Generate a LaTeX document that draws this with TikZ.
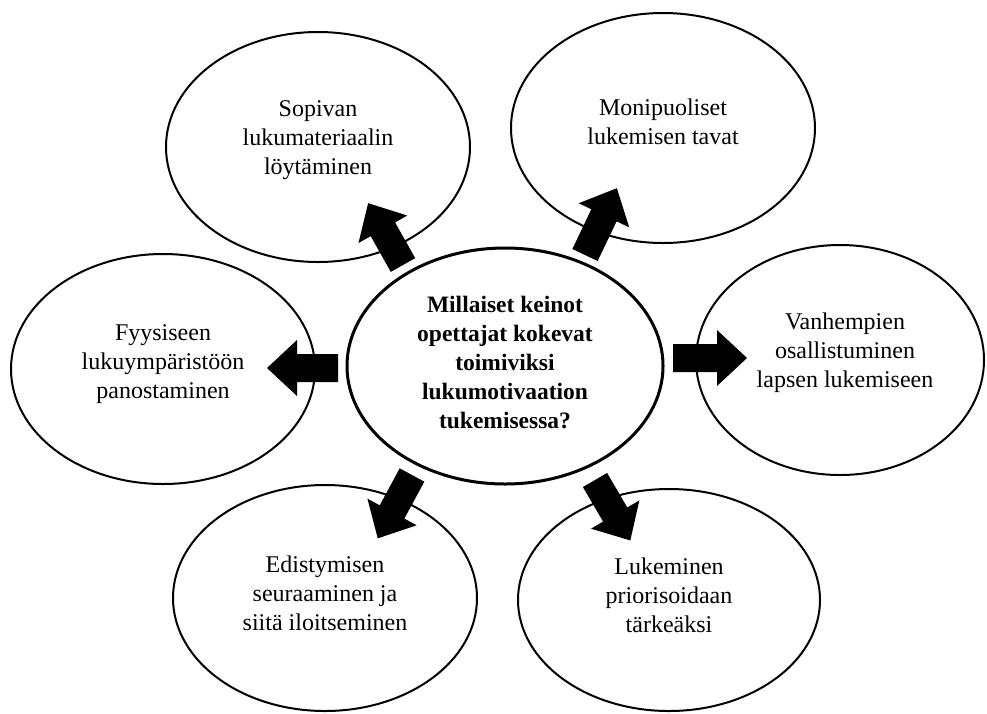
\documentclass[tikz,border=0pt]{standalone}
\usepackage{fontspec}
\setmainfont{Liberation Serif}
\usetikzlibrary{shapes.geometric}
\tikzset{
  bub/.style={ellipse, draw=black, line width=2pt, inner sep=0pt},
  hub/.style={ellipse, draw=black, line width=3pt, inner sep=0pt},
  txt/.style={align=center, inner sep=0pt, font=\fontsize{24}{29}\selectfont},
  hubtxt/.style={txt, font=\fontsize{23.5}{29}\selectfont\bfseries},
  blk/.style={fill=black},
}
\newcommand\blockarr[3]{% coordinate, angle, length
  \fill[blk, shift={(#1)}, rotate=#2]
    (0,-14) -- ({#3-30},-14) -- ({#3-30},-28) -- (#3,0) -- ({#3-30},28) -- ({#3-30},14) -- (0,14) -- cycle;}
\begin{document}
\begin{tikzpicture}[x=1pt,y=-1pt]
  \path[fill=white] (0,0) rectangle (987,713);
  \useasboundingbox (0,0) rectangle (987,713);

  % outer bubbles
  \node[bub, minimum width=304pt, minimum height=230pt] (tl) at (318,147) {};
  \node[bub, minimum width=304pt, minimum height=230pt] (tr) at (663,128) {};
  \node[bub, minimum width=304pt, minimum height=230pt] (l)  at (163,369) {};
  \node[bub, minimum width=288pt, minimum height=230pt] (r)  at (840,360) {};
  \node[bub, minimum width=304pt, minimum height=226pt] (bl) at (325,598) {};
  \node[bub, minimum width=302pt, minimum height=222pt] (br) at (669,600) {};
  % central bubble
  \node[hub, minimum width=316pt, minimum height=236pt] (c) at (505,366) {};

  % texts
  \node[txt] (tltext) at ([yshift=7pt]tl.center) {Sopivan\\lukumateriaalin\\löytäminen};
  \node[txt] (trtext) at ([yshift=6pt]tr.center) {Monipuoliset\\lukemisen tavat};
  \node[txt] (ltext)  at ([yshift=5pt]l.center)  {Fyysiseen\\lukuympäristöön\\panostaminen};
  \node[txt] (rtext)  at ([xshift=5pt,yshift=7pt]r.center) {Vanhempien\\osallistuminen\\lapsen lukemiseen};
  \node[txt] (bltext) at ([yshift=5pt]bl.center) {Edistymisen\\seuraaminen ja\\siitä iloitseminen};
  \node[txt] (brtext) at ([yshift=5pt]br.center) {Lukeminen\\priorisoidaan\\tärkeäksi};
  \node[hubtxt] (ctext) at ([yshift=3pt]c.center) {Millaiset keinot\\opettajat kokevat\\toimiviksi\\lukumotivaation\\tukemisessa?};

  % block arrows
  \coordinate (a1) at (403,265);
  \coordinate (a2) at (585,255);
  \coordinate (a3) at (338,368);
  \coordinate (a4) at (673,358);
  \coordinate (a5) at (412,475);
  \coordinate (a6) at (595,480);
  \blockarr{a1}{119.4}{71}
  \blockarr{a2}{64.5}{74}
  \blockarr{a3}{180}{71}
  \blockarr{a4}{0}{74}
  \blockarr{a5}{241.6}{72}
  \blockarr{a6}{-59.7}{70}
\end{tikzpicture}
\end{document}
